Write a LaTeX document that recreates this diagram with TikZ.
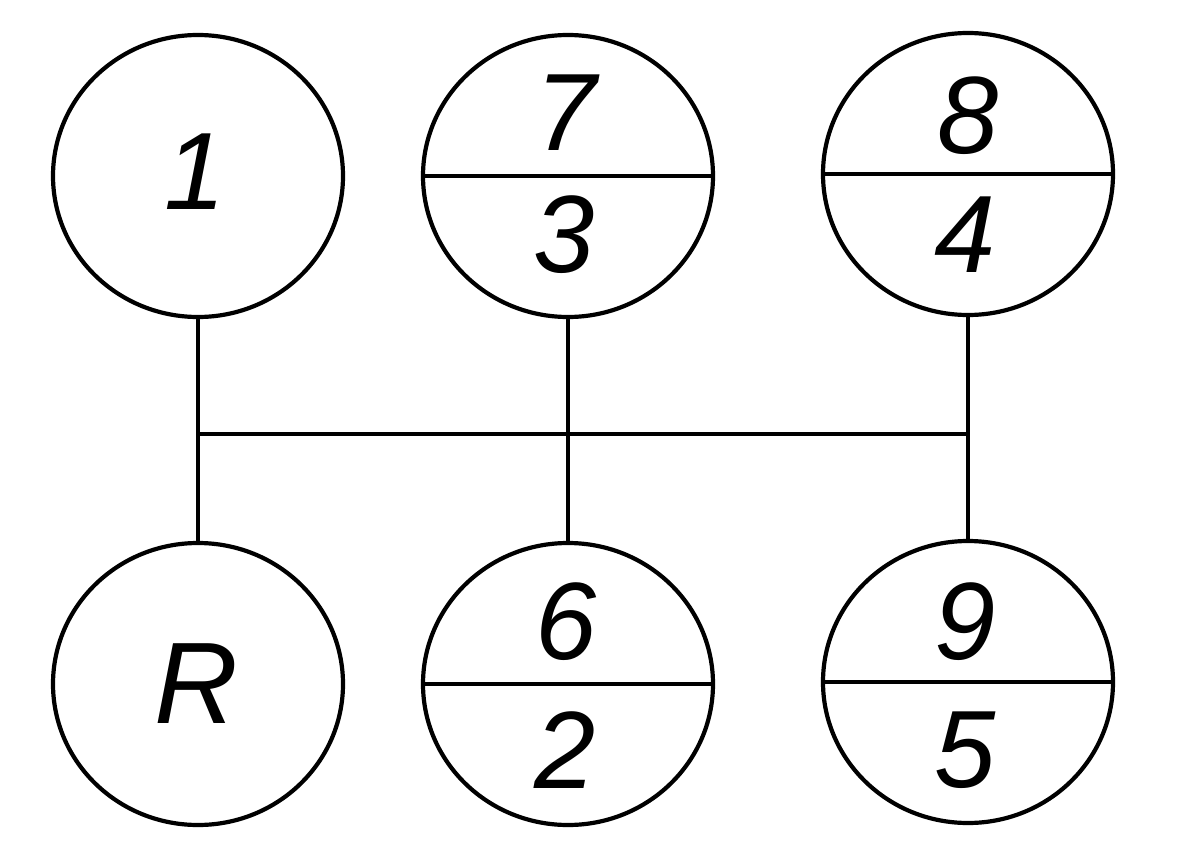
\documentclass[tikz,border=0pt]{standalone}
\usepackage{fontspec}
\setmainfont{Liberation Sans}
\usetikzlibrary{shapes.geometric}
\begin{document}
\begin{tikzpicture}[x=1pt,y=-1pt,
  gate/.style={draw, ellipse, line width=4.2pt, minimum width=290pt, minimum height=282pt, inner sep=0pt, outer sep=0pt},
  num/.style={font=\fontsize{110}{110}\selectfont\itshape, inner sep=0pt},
  rev/.style={font=\fontsize{116}{116}\selectfont\itshape, inner sep=0pt},
  link/.style={line width=4.2pt}]
\useasboundingbox (0,0) rectangle (1181,864);
% gate circles
\node[gate] (g1)  at (198,176) {};
\node[gate] (g73) at (568,176) {};
\node[gate] (g84) at (968,174) {};
\node[gate] (gR)  at (198,684) {};
\node[gate] (g62) at (568,684) {};
\node[gate] (g95) at (968,682) {};
% dividers
\draw[link] ([xshift=-2pt]g73.west) -- ([xshift=2pt]g73.east);
\draw[link] ([xshift=-2pt]g84.west) -- ([xshift=2pt]g84.east);
\draw[link] ([xshift=-2pt]g62.west) -- ([xshift=2pt]g62.east);
\draw[link] ([xshift=-2pt]g95.west) -- ([xshift=2pt]g95.east);
% labels
\node[num] (l1) at (195,172) {1};
\node[num] (l7) at (566,113) {7};
\node[num] (l3) at (564,235) {3};
\node[num] (l8) at (968,116) {8};
\node[num] (l4) at (965,235) {4};
\node[rev] (lR) at (196,684) {R};
\node[num] (l6) at (566,622) {6};
\node[num] (l2) at (565,750) {2};
\node[num] (l9) at (965,622) {9};
\node[num] (l5) at (965,750) {5};
% shift pattern
\coordinate (j1) at (198,434);
\draw[link] (g1.south) -- (gR.north);
\draw[link] (g73.south) -- (g62.north);
\draw[link] (g84.south) -- (g95.north);
\draw[link] (g1.south |- j1) -- (g84.south |- j1);
\end{tikzpicture}
\end{document}
